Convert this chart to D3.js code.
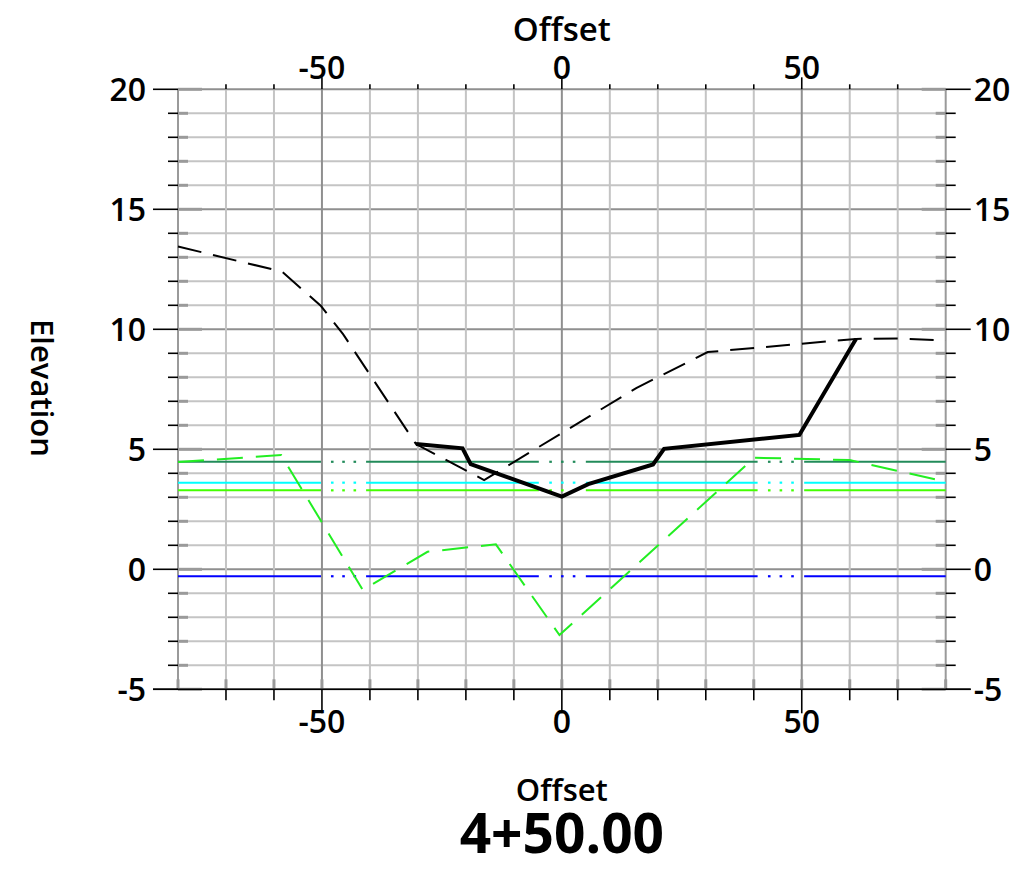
<!DOCTYPE html>
<html>
<head>
<meta charset="utf-8">
<script src="https://cdn.jsdelivr.net/npm/d3@7"></script>
<style>
  html, body { margin: 0; padding: 0; background: #fff; }
  svg { display: block; }
  text { font-family: "Open Sans", "Noto Sans", sans-serif; fill: #000; }
</style>
</head>
<body>
<svg id="chart" width="1020" height="875"></svg>
<script>
// Cross-section 4+50.00: offsets (ft) and elevations (ft)
const stationLabel = "4+50.00";

const xTickValues = d3.range(-80, 81, 10);
const xLabelValues = [-50, 0, 50];
const yTickValues = d3.range(-5, 21, 1);
const yLabelValues = [-5, 0, 5, 10, 15, 20];

// existing ground (dashed black)
const groundOffsets = [-80, -58.3, -50.2, -45.6, -30.4, -16.2, 15.5, 30.4, 61.3, 70, 80];
const groundElevs   = [13.45, 12.4, 10.97, 9.8, 5.22, 3.72, 7.55, 9.05, 9.6, 9.62, 9.53];

// design section (solid black)
const designOffsets = [-30.4, -20.7, -19, 0, 5.5, 19, 21.3, 49.5, 61.3];
const designElevs   = [5.22, 5.04, 4.38, 3.03, 3.55, 4.37, 5.02, 5.6, 9.6];

// secondary surface (dashed green)
const surfaceOffsets = [-80, -58.5, -41.5, -28, -13.75, -0.5, 40.1, 60, 80];
const surfaceElevs   = [4.47, 4.76, -0.86, 0.73, 1.04, -2.74, 4.65, 4.55, 3.65];

// horizontal water levels, each broken by dotted gaps
const levelElevs = [4.48, 3.61, 3.29, -0.29];
const levelGaps = [[-50.2, -40.8], [-4.8, 5.0], [40.8, 50.5]];

const levelColors = ["#228b5a", "#00ffff", "#44ff00", "#0000ff"];

const svg = d3.select("#chart");
const x = d3.scaleLinear().domain([-80, 80]).range([178, 945.7]);
const y = d3.scaleLinear().domain([-5, 20]).range([689.3, 89.3]);

const [x0, x1] = x.range();
const [yb, yt] = y.range();

// grid
const grid = svg.append("g");
grid.selectAll("line.gy").data(yTickValues).join("line")
  .attr("x1", x0).attr("x2", x1)
  .attr("y1", d => y(d)).attr("y2", d => y(d))
  .attr("stroke", d => d % 5 === 0 ? "#8f8f8f" : "#c4c4c4")
  .attr("stroke-width", 2);
grid.selectAll("line.gx").data(xTickValues).join("line")
  .attr("y1", yt).attr("y2", yb)
  .attr("x1", d => x(d)).attr("x2", d => x(d))
  .attr("stroke", d => d % 50 === 0 ? "#8f8f8f" : (Math.abs(d) === 80 ? "#9a9a9a" : "#c4c4c4"))
  .attr("stroke-width", 2);

// inner gray tick stubs
const stubs = svg.append("g").attr("stroke", "#9a9a9a").attr("stroke-width", 3);
yTickValues.forEach(v => {
  const len = v % 5 === 0 ? 24 : 10;
  stubs.append("line").attr("x1", x0).attr("x2", x0 + len).attr("y1", y(v)).attr("y2", y(v));
  stubs.append("line").attr("x1", x1 - len).attr("x2", x1).attr("y1", y(v)).attr("y2", y(v));
});
xTickValues.forEach(v => {
  stubs.append("line").attr("x1", x(v)).attr("x2", x(v)).attr("y1", yb - 10).attr("y2", yb);
});

// outer black ticks
const axesG = svg.append("g").attr("stroke", "#000").attr("stroke-width", 1.6);
yTickValues.forEach(v => {
  const len = v % 5 === 0 ? 25 : 10;
  axesG.append("line").attr("x1", x0 - len).attr("x2", x0).attr("y1", y(v)).attr("y2", y(v));
  axesG.append("line").attr("x1", x1).attr("x2", x1 + len).attr("y1", y(v)).attr("y2", y(v));
});
xTickValues.filter(v => Math.abs(v) !== 80).forEach(v => {
  const lenB = v % 50 === 0 ? 24 : 11;
  const lenT = v % 50 === 0 ? 12 : 5;
  axesG.append("line").attr("x1", x(v)).attr("x2", x(v)).attr("y1", yb).attr("y2", yb + lenB);
  axesG.append("line").attr("x1", x(v)).attr("x2", x(v)).attr("y1", yt - lenT).attr("y2", yt);
});
// bottom baseline
axesG.append("line").attr("x1", x0 - 25).attr("x2", x1 + 25).attr("y1", yb).attr("y2", yb);

// tick labels
const fs = 32;
svg.append("g").selectAll("text").data(yLabelValues).join("text")
  .attr("x", x0 - 32).attr("y", d => y(d)).attr("dy", "0.36em")
  .attr("text-anchor", "end").attr("font-size", fs).attr("font-weight", 600)
  .text(d => d);
svg.append("g").selectAll("text").data(yLabelValues).join("text")
  .attr("x", x1 + 28).attr("y", d => y(d)).attr("dy", "0.36em")
  .attr("text-anchor", "start").attr("font-size", fs).attr("font-weight", 600)
  .text(d => d);
svg.append("g").selectAll("text").data(xLabelValues).join("text")
  .attr("x", d => x(d)).attr("y", 79)
  .attr("text-anchor", "middle").attr("font-size", fs).attr("font-weight", 600)
  .text(d => d);
svg.append("g").selectAll("text").data(xLabelValues).join("text")
  .attr("x", d => x(d)).attr("y", 733)
  .attr("text-anchor", "middle").attr("font-size", fs).attr("font-weight", 600)
  .text(d => d);

// axis titles
svg.append("text").attr("x", x(0)).attr("y", 41).attr("text-anchor", "middle")
  .attr("font-size", 33).attr("font-weight", 600).text("Offset");
svg.append("text").attr("x", x(0)).attr("y", 801).attr("text-anchor", "middle")
  .attr("font-size", 31).attr("font-weight", 600).text("Offset");
svg.append("text").attr("transform", "translate(31,388) rotate(90)")
  .attr("text-anchor", "middle").attr("font-size", 31).attr("font-weight", 600)
  .text("Elevation");
svg.append("text").attr("x", x(0)).attr("y", 853).attr("text-anchor", "middle")
  .attr("font-size", 55).attr("font-weight", 700).text(stationLabel);

// horizontal levels with dotted gaps
const levelsG = svg.append("g");
levelElevs.forEach((e, i) => {
  const col = levelColors[i];
  const bounds = [-80].concat(...levelGaps).concat([80]);
  for (let k = 0; k < bounds.length; k += 2) {
    levelsG.append("line")
      .attr("x1", x(bounds[k])).attr("x2", x(bounds[k + 1]))
      .attr("y1", y(e)).attr("y2", y(e))
      .attr("stroke", col).attr("stroke-width", 2);
  }
  levelGaps.forEach(([a, b]) => {
    [1, 2, 3].forEach(j => {
      const cx = x(a + (b - a) * j / 4);
      levelsG.append("line")
        .attr("x1", cx - 1.3).attr("x2", cx + 1.3)
        .attr("y1", y(e)).attr("y2", y(e))
        .attr("stroke", col).attr("stroke-width", 2.2);
    });
  });
});

const line = d3.line().x(d => x(d[0])).y(d => y(d[1]));

// secondary surface
svg.append("path")
  .datum(d3.zip(surfaceOffsets, surfaceElevs))
  .attr("d", line).attr("fill", "none")
  .attr("stroke", "#22ee22").attr("stroke-width", 2)
  .attr("stroke-dasharray", "26,13");

// existing ground
svg.append("path")
  .datum(d3.zip(groundOffsets, groundElevs))
  .attr("d", line).attr("fill", "none")
  .attr("stroke", "#000").attr("stroke-width", 2)
  .attr("stroke-dasharray", "24,12");

// design section
svg.append("path")
  .datum(d3.zip(designOffsets, designElevs))
  .attr("d", line).attr("fill", "none")
  .attr("stroke", "#000").attr("stroke-width", 4)
  .attr("stroke-linejoin", "miter");
</script>
</body>
</html>
